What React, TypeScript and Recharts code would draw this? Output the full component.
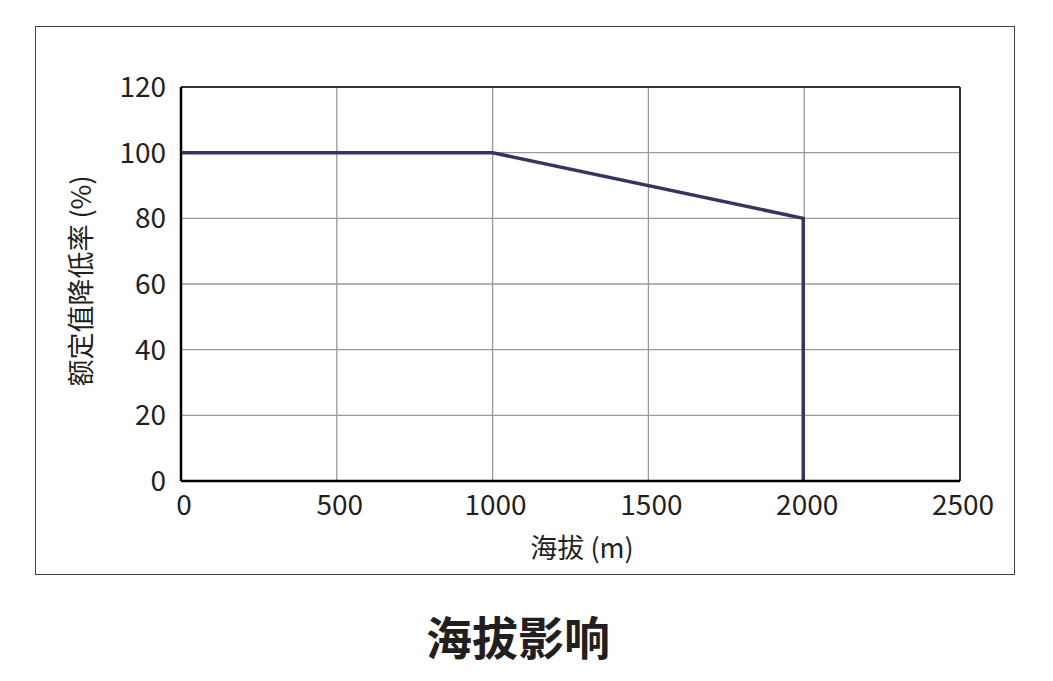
import React from "react";
import { LineChart, Line, XAxis, YAxis, CartesianGrid, ReferenceLine } from "recharts";

const altitude = [0, 1000, 1997, 1997];
const ratedPercent = [100, 100, 80, 0];
const xTicks = [0, 500, 1000, 1500, 2000, 2500];
const yTicks = [0, 20, 40, 60, 80, 100, 120];
const title = "海拔影响";
const xLabel = "海拔 (m)";
const yLabel = "额定值降低率 (%)";

const data = altitude.map((a, i) => ({ alt: a, pct: ratedPercent[i] }));

const FONT = '"Noto Sans CJK SC", "Noto Sans", sans-serif';
const TXT = "#231f20";

export default function App() {
  return (
    <div style={{ position: "absolute", left: 0, top: 0, width: 1053, height: 681, background: "#fff", fontFamily: FONT }}>
      <div
        style={{
          position: "absolute",
          left: 35,
          top: 26,
          width: 980,
          height: 549,
          border: "1.5px solid #444",
          boxSizing: "border-box",
        }}
      />
      <div style={{ position: "absolute", left: 0, top: 0 }}>
        <LineChart width={1053} height={681} data={data} margin={{ top: 87, right: 93, bottom: 170, left: 121 }}>
          <CartesianGrid stroke="#9a9a9a" strokeWidth={1.3} />
          <XAxis
            type="number"
            dataKey="alt"
            domain={[0, 2500]}
            ticks={xTicks}
            height={30}
            tickLine={false}
            tickSize={0}
            tickMargin={14}
            axisLine={{ stroke: "#000", strokeWidth: 2.5 }}
            tick={{ fill: TXT, fontSize: 28, fontFamily: FONT, dx: 3 }}
            interval={0}
          />
          <YAxis
            type="number"
            domain={[0, 120]}
            ticks={yTicks}
            width={60}
            tickLine={false}
            tickSize={0}
            tickMargin={15}
            axisLine={{ stroke: "#000", strokeWidth: 2.5 }}
            tick={{ fill: TXT, fontSize: 28, fontFamily: FONT }}
            interval={0}
          />
          <ReferenceLine y={120} stroke="#333" strokeWidth={2} />
          <ReferenceLine x={2500} stroke="#333" strokeWidth={2} />
          <Line
            type="linear"
            dataKey="pct"
            stroke="#35365f"
            strokeWidth={3.5}
            dot={false}
            activeDot={false}
            isAnimationActive={false}
          />
        </LineChart>
      </div>
      <div
        style={{
          position: "absolute",
          left: 482,
          top: 529,
          width: 200,
          textAlign: "center",
          fontSize: 27,
          lineHeight: "36px",
          color: TXT,
        }}
      >
        {xLabel}
      </div>
      <div
        style={{
          position: "absolute",
          left: 80 - 150,
          top: 281 - 18,
          width: 300,
          height: 36,
          lineHeight: "36px",
          textAlign: "center",
          fontSize: 27,
          color: TXT,
          transform: "rotate(-90deg)",
        }}
      >
        {yLabel}
      </div>
      <div
        style={{
          position: "absolute",
          left: 318,
          top: 605,
          width: 400,
          textAlign: "center",
          fontSize: 46,
          lineHeight: "60px",
          fontWeight: 700,
          color: TXT,
        }}
      >
        {title}
      </div>
    </div>
  );
}
